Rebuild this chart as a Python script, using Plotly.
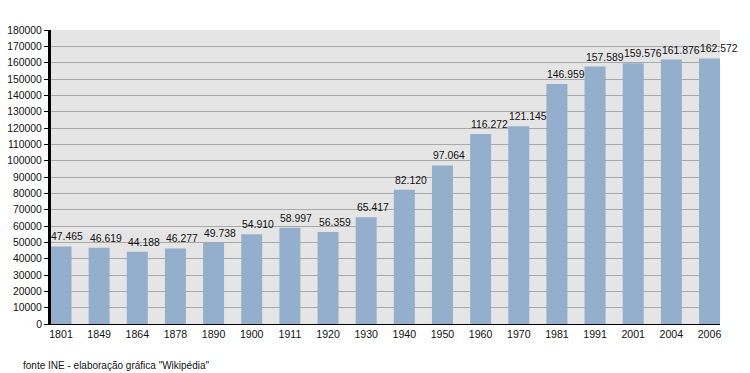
import plotly.graph_objects as go

years = ["1801", "1849", "1864", "1878", "1890", "1900", "1911", "1920", "1930",
         "1940", "1950", "1960", "1970", "1981", "1991", "2001", "2004", "2006"]
population = [47465, 46619, 44188, 46277, 49738, 54910, 58997, 56359, 65417,
              82120, 97064, 116272, 121145, 146959, 157589, 159576, 161876, 162572]
y_ticks = list(range(0, 180001, 10000))
source_note = "fonte INE - elaboração gráfica \"Wikipédia\""

labels = [f"{v:,}".replace(",", ".") for v in population]
FONT = "Liberation Sans, Arial, sans-serif"

fig = go.Figure(go.Bar(
    x=years, y=population,
    marker=dict(color="#93afcb", line=dict(width=0)),
    width=0.55, hoverinfo="x+y",
))

# value labels, left-aligned with the left edge of each bar
# (category axis: annotation x is the category's serial index)
annotations = [
    dict(x=i, y=v, xref="x", yref="y", text=lab, showarrow=False,
         xanchor="left", yanchor="bottom", xshift=-11.5, yshift=2,
         font=dict(size=10.4, color="#111111", family=FONT))
    for i, (v, lab) in enumerate(zip(population, labels))
]
annotations.append(dict(text=source_note, xref="paper", yref="paper",
                        x=-0.045, y=-0.115, xanchor="left", yanchor="top",
                        showarrow=False, font=dict(size=10, color="#111111", family=FONT)))

fig.update_layout(
    width=750, height=373,
    margin=dict(l=51, r=30, t=30, b=49, autoexpand=False),
    paper_bgcolor="white", plot_bgcolor="#e5e5e5",
    font=dict(family=FONT, size=10.4, color="#111111"),
    showlegend=False,
    xaxis=dict(type="category", range=[-0.262, 17.275], showgrid=False,
               showline=True, linecolor="black", linewidth=1, automargin=False,
               ticks="", tickfont=dict(size=10.6)),
    yaxis=dict(range=[0, 180000], tickvals=y_ticks, ticktext=[str(t) for t in y_ticks],
               showgrid=True, gridcolor="#a9a9a9", gridwidth=1, automargin=False,
               showline=True, linecolor="black", linewidth=3,
               ticks="outside", ticklen=4, tickcolor="black", tickwidth=1,
               tickfont=dict(size=10.4), zeroline=False),
    annotations=annotations,
)

fig.write_html("out.html", config={"displayModeBar": False},
               post_script="document.body.style.margin='0';document.body.style.overflow='hidden';")
